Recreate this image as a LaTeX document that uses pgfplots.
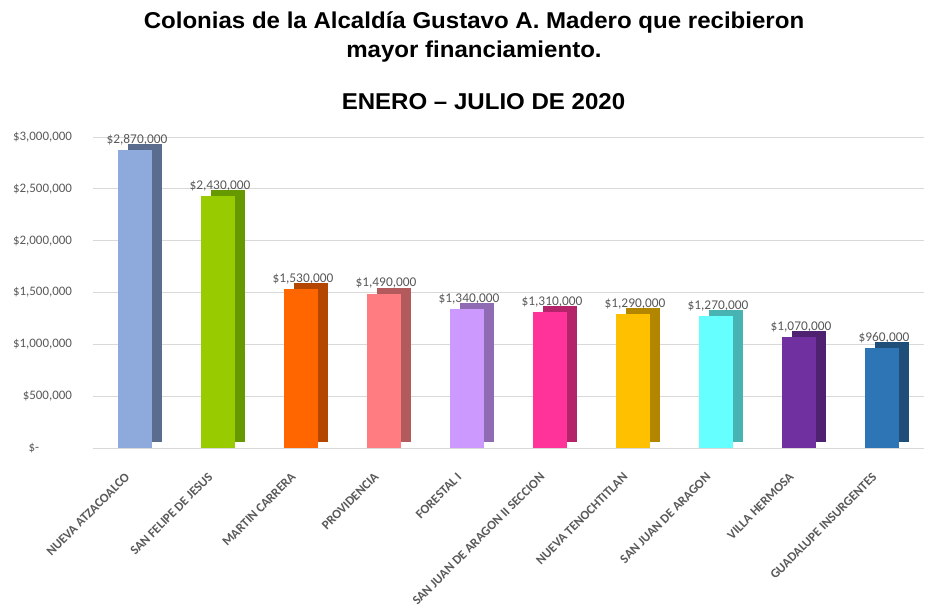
\documentclass[border=0pt]{standalone}
\usepackage{fontspec}
\setmainfont{Liberation Sans}
\newfontfamily\calibri{Carlito}
\usepackage{pgfplots}
\pgfplotsset{compat=1.18}
\definecolor{lbl}{HTML}{595959}
\definecolor{grd}{HTML}{D9D9D9}
\definecolor{f1}{HTML}{8EA9DB}\definecolor{s1}{HTML}{5A6D8F}
\definecolor{f2}{HTML}{99CC00}\definecolor{s2}{HTML}{669900}
\definecolor{f3}{HTML}{FF6600}\definecolor{s3}{HTML}{B34700}
\definecolor{f4}{HTML}{FF7C80}\definecolor{s4}{HTML}{B35A5D}
\definecolor{f5}{HTML}{CC99FF}\definecolor{s5}{HTML}{8F6BB3}
\definecolor{f6}{HTML}{FF3399}\definecolor{s6}{HTML}{B3246B}
\definecolor{f7}{HTML}{FFC000}\definecolor{s7}{HTML}{B38600}
\definecolor{f8}{HTML}{66FFFF}\definecolor{s8}{HTML}{47B3B3}
\definecolor{f9}{HTML}{7030A0}\definecolor{s9}{HTML}{4E2270}
\definecolor{f10}{HTML}{2E75B6}\definecolor{s10}{HTML}{1F4E79}
\newcommand{\mybar}[5]{%
  \addplot[fill=#5, draw=none, bar shift=10bp, yshift=6bp] coordinates {(#1,#2)};
  \addplot[fill=#4, draw=none, bar shift=0bp, nodes near coords, point meta=explicit symbolic] coordinates {(#1,#2) [#3]};
}
\begin{document}
\begin{tikzpicture}
\begin{axis}[
  scale only axis, width=830bp, height=311bp,
  xmin=-0.5, xmax=9.5, ymin=0, ymax=3000000,
  ybar, bar width=34bp,
  axis line style={draw=none}, tick style={draw=none},
  ymajorgrids, major grid style={draw=grd, line width=0.8bp},
  scaled y ticks=false,
  ytick={0,500000,1000000,1500000,2000000,2500000,3000000},
  yticklabels={\$-\hphantom{00000},{\$500,000},{\$1,000,000},{\$1,500,000},{\$2,000,000},{\$2,500,000},{\$3,000,000}},
  yticklabel style={font=\calibri\fontsize{13}{15}\selectfont, text=lbl, xshift=-18bp},
  xtick={0,...,9},
  xticklabels={NUEVA ATZACOALCO,SAN FELIPE DE JESUS,MARTIN CARRERA,PROVIDENCIA,FORESTAL I,SAN JUAN DE ARAGON II SECCION,NUEVA TENOCHTITLAN,SAN JUAN DE ARAGON,VILLA HERMOSA,GUADALUPE INSURGENTES},
  xticklabel style={xshift=-10.6bp, yshift=-18bp, rotate=45, anchor=north east, font=\calibri\bfseries\fontsize{12.9}{14}\selectfont, text=lbl, inner sep=1bp},
  nodes near coords style={font=\calibri\fontsize{13.4}{15}\selectfont, text=lbl, anchor=south, inner sep=1bp, yshift=4bp, xshift=2bp},
  clip=false,
]
\mybar{0}{2870000}{\$2,870,000}{f1}{s1}
\mybar{1}{2430000}{\$2,430,000}{f2}{s2}
\mybar{2}{1530000}{\$1,530,000}{f3}{s3}
\mybar{3}{1490000}{\$1,490,000}{f4}{s4}
\mybar{4}{1340000}{\$1,340,000}{f5}{s5}
\mybar{5}{1310000}{\$1,310,000}{f6}{s6}
\mybar{6}{1290000}{\$1,290,000}{f7}{s7}
\mybar{7}{1270000}{\$1,270,000}{f8}{s8}
\mybar{8}{1070000}{\$1,070,000}{f9}{s9}
\mybar{9}{960000}{\$960,000}{f10}{s10}
\end{axis}
\node[font=\bfseries\fontsize{23}{30}\selectfont, align=center, xscale=1.05] at ([shift={(380.5bp,411bp)}]current axis.south west) {Colonias de la Alcaldía Gustavo A. Madero que recibieron\\mayor financiamiento.};
\node[font=\bfseries\fontsize{23}{26}\selectfont, xscale=1.05] at ([shift={(390bp,346bp)}]current axis.south west) {ENERO – JULIO DE 2020};
\path ([shift={(-93.5bp,-148bp)}]current axis.south west) rectangle ++(932bp,596bp);
\end{tikzpicture}
\end{document}
